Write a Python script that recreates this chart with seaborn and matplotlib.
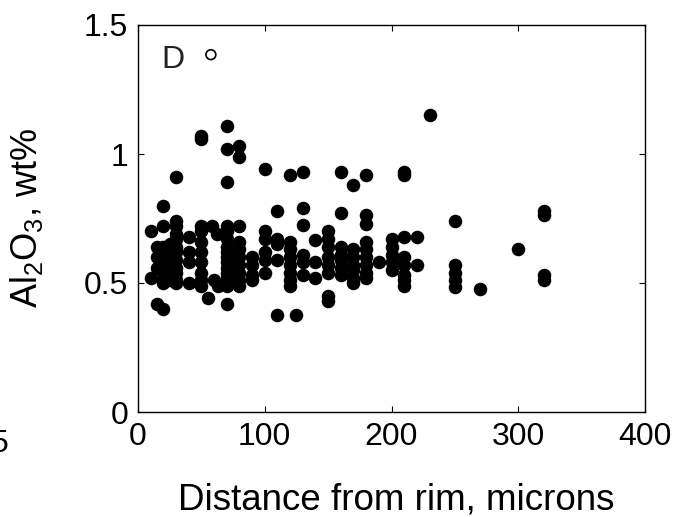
import matplotlib
matplotlib.use("Agg")
import matplotlib.pyplot as plt
import seaborn as sns
import pandas as pd

# ---- data ----
distance_um = [
    10, 10,
    15, 15, 15, 15,
    20, 20, 20, 20, 20, 20, 20, 20, 20,
    25, 25, 25, 25, 25, 25,
    30, 30, 30, 30, 30, 30, 30, 30, 30, 30, 30, 30,
    40, 40, 40, 40,
    50, 50, 50, 50, 50, 50, 50, 50, 50, 50,
    55, 58, 60, 62, 63,
    70, 70, 70, 70, 70, 70, 70, 70, 70, 70, 70, 70, 70, 70, 70, 70,
    80, 80, 80, 80, 80, 80, 80, 80, 80, 80,
    90, 90, 90, 90,
    100, 100, 100, 100, 100, 100,
    110, 110, 110, 110, 110,
    120, 120, 120, 120, 120, 120, 120, 120,
    125,
    130, 130, 130, 130, 130, 130,
    140, 140, 140,
    150, 150, 150, 150, 150, 150, 150, 150,
    160, 160, 160, 160, 160, 160, 160,
    170, 170, 170, 170, 170, 170, 170,
    180, 180, 180, 180, 180, 180, 180, 180, 180,
    190,
    200, 200, 200, 200, 200,
    210, 210, 210, 210, 210, 210, 210, 210,
    220, 220,
    230,
    250, 250, 250, 250, 250,
    270,
    300,
    320, 320, 320, 320,
]
al2o3_wt = [
    0.70, 0.52,
    0.64, 0.60, 0.56, 0.42,
    0.80, 0.72, 0.64, 0.61, 0.58, 0.55, 0.52, 0.50, 0.40,
    0.65, 0.62, 0.59, 0.56, 0.53, 0.51,
    0.91, 0.74, 0.72, 0.69, 0.67, 0.64, 0.62, 0.59, 0.56, 0.54, 0.51, 0.50,
    0.68, 0.62, 0.58, 0.50,
    1.07, 1.06, 0.72, 0.70, 0.66, 0.62, 0.58, 0.54, 0.51, 0.49,
    0.44, 0.72, 0.51, 0.69, 0.49,
    1.11, 1.02, 0.89, 0.72, 0.70, 0.67, 0.64, 0.62, 0.60, 0.58, 0.56, 0.54, 0.52, 0.50, 0.49, 0.42,
    1.03, 0.99, 0.72, 0.66, 0.63, 0.60, 0.57, 0.54, 0.51, 0.49,
    0.60, 0.57, 0.53, 0.51,
    0.94, 0.70, 0.67, 0.62, 0.59, 0.54,
    0.78, 0.67, 0.65, 0.59, 0.375,
    0.92, 0.66, 0.63, 0.60, 0.57, 0.54, 0.51, 0.49,
    0.375,
    0.93, 0.79, 0.725, 0.61, 0.58, 0.53,
    0.665, 0.58, 0.52,
    0.70, 0.67, 0.64, 0.60, 0.57, 0.54, 0.45, 0.43,
    0.93, 0.77, 0.64, 0.61, 0.59, 0.56, 0.53,
    0.88, 0.63, 0.60, 0.57, 0.55, 0.52, 0.50,
    0.92, 0.765, 0.73, 0.66, 0.63, 0.60, 0.57, 0.54, 0.52,
    0.58,
    0.67, 0.64, 0.61, 0.58, 0.55,
    0.93, 0.92, 0.68, 0.60, 0.57, 0.53, 0.51, 0.49,
    0.68, 0.57,
    1.15,
    0.74, 0.57, 0.54, 0.51, 0.485,
    0.475,
    0.63,
    0.78, 0.765, 0.53, 0.51,
]
# open symbol next to the panel letter
open_x = [57.5]
open_y = [1.385]

x_ticks = [0, 100, 200, 300, 400]
x_tick_labels = ["0", "100", "200", "300", "400"]
y_ticks = [0, 0.5, 1.0, 1.5]
y_tick_labels = ["0", "0.5", "1", "1.5"]

# ---- style ----
sns.set_theme(style="white")
plt.rcParams["font.family"] = ["Liberation Sans", "DejaVu Sans"]
plt.rcParams["mathtext.fontset"] = "custom"
plt.rcParams["mathtext.rm"] = "Liberation Sans"
plt.rcParams["mathtext.it"] = "Liberation Sans"

W, H = 678, 517
fig = plt.figure(figsize=(W / 100, H / 100), dpi=100)
L, R, T, B = 138, 645, 25, 412
ax = fig.add_axes([L / W, (H - B) / H, (R - L) / W, (B - T) / H])

df = pd.DataFrame({"distance": distance_um, "al2o3": al2o3_wt})
sns.scatterplot(data=df, x="distance", y="al2o3", ax=ax, color="black",
                s=95, linewidth=0, legend=False, zorder=3)
sns.scatterplot(x=open_x, y=open_y, ax=ax, facecolor="none", edgecolor="black",
                s=50, linewidth=1.2, legend=False, zorder=3)

ax.set_xlim(0, 400)
ax.set_ylim(0, 1.5)
ax.set_xticks(x_ticks)
ax.set_xticklabels(x_tick_labels)
ax.set_yticks(y_ticks)
ax.set_yticklabels(y_tick_labels)
ax.tick_params(axis="both", which="both", direction="in", length=4, width=0.8,
               color="black", labelsize=23, labelcolor="black", pad=7,
               top=True, right=True, bottom=True, left=True)
for s in ax.spines.values():
    s.set_color("black")
    s.set_linewidth(1.0)
    s.set_visible(True)
ax.grid(False)
ax.set_facecolor("white")

ax.set_xlabel("Distance from rim, microns", fontsize=26.5, color="black")
ax.xaxis.label.set_va("baseline")
ax.xaxis.set_label_coords((396 - L) / (R - L), -(509 - B) / (B - T))
ax.set_ylabel("Al$_2$O$_3$, wt%", fontsize=26, color="black")
ax.yaxis.set_label_coords(-(L - 45) / (R - L), 0.5)

ax.text(18.7, 1.333, "D", fontsize=23, color="#222222", ha="left", va="baseline")

# fragment of the neighbouring panel's tick label at the left edge
fig.text(8 / W, 1 - 452 / H, "5", fontsize=23, color="black", ha="right", va="baseline")

fig.savefig("out.png", dpi=100, facecolor="white")
